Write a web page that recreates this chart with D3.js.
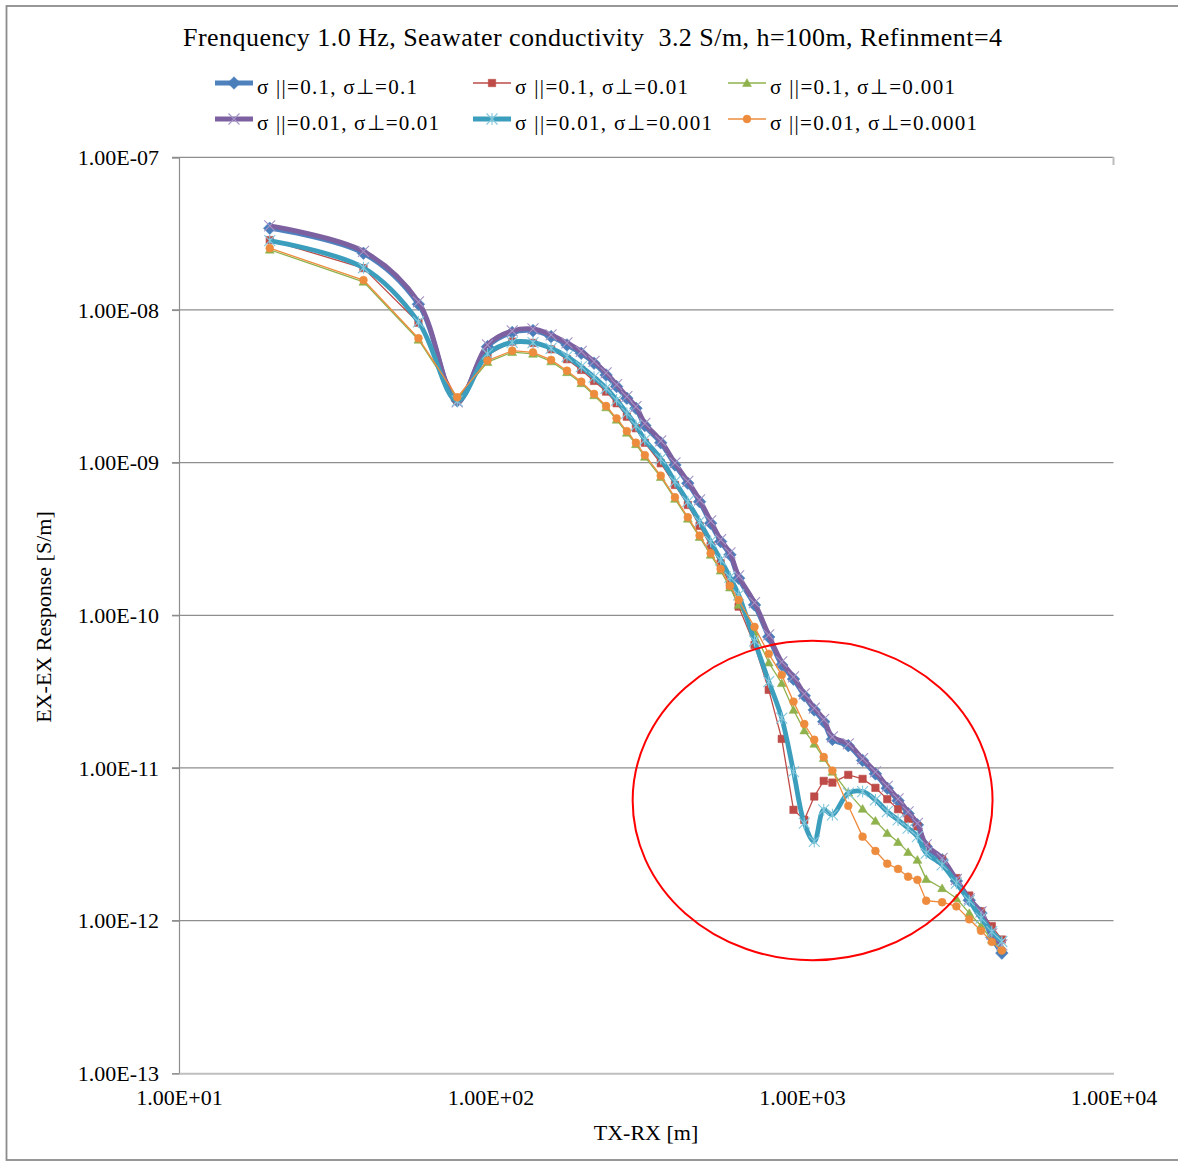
<!DOCTYPE html>
<html>
<head>
<meta charset="utf-8">
<script src="https://cdn.jsdelivr.net/npm/d3@7"></script>
<style>
  body { margin: 0; background: #fff; }
  text { font-family: "Liberation Serif", "Times New Roman", serif; fill: #000; }
</style>
</head>
<body>
<svg id="chart" width="1178" height="1163"></svg>
<script>
// TX-RX offsets [m]
const distance = [19.56, 39.1, 58.7, 78.2, 97.8, 117.4, 136.9, 156.5, 176, 195.6,
  215, 235, 254, 274, 293, 313, 352, 391, 430, 469, 509, 548, 587, 626,
  704, 782, 861, 939, 1017, 1095, 1174, 1252, 1408, 1565, 1721, 1878, 2034,
  2191, 2347, 2504, 2817, 3130, 3443, 3756, 4068, 4381];

// EX-EX response [S/m]
const s01_01 = [3.43e-8, 2.35e-8, 1.09e-8, 2.54e-9, 5.75e-9, 7.12e-9, 7.32e-9, 6.69e-9, 5.90e-9, 5.20e-9,
  4.48e-9, 3.75e-9, 3.15e-9, 2.64e-9, 2.27e-9, 1.75e-9, 1.35e-9, 9.66e-10, 7.33e-10, 5.55e-10,
  4.01e-10, 3.04e-10, 2.49e-10, 1.75e-10, 1.17e-10, 7.22e-11, 4.73e-11, 3.82e-11, 2.97e-11, 2.40e-11,
  2.01e-11, 1.54e-11, 1.40e-11, 1.12e-11, 9.15e-12, 7.37e-12, 6.11e-12, 5.03e-12, 4.24e-12, 3.06e-12,
  2.50e-12, 1.82e-12, 1.36e-12, 1.12e-12, 7.77e-13, 6.13e-13];
const s01_001 = [2.87e-8, 1.88e-8, 8.25e-9, 2.57e-9, 5.07e-9, 6.20e-9, 6.08e-9, 5.53e-9, 4.76e-9, 4.05e-9,
  3.43e-9, 2.92e-9, 2.45e-9, 2.00e-9, 1.68e-9, 1.35e-9, 9.91e-10, 7.14e-10, 5.28e-10, 3.85e-10,
  2.85e-10, 2.19e-10, 1.58e-10, 1.14e-10, 6.40e-11, 3.25e-11, 1.55e-11, 5.32e-12, 4.57e-12, 6.50e-12,
  8.23e-12, 8.02e-12, 9.01e-12, 8.48e-12, 7.41e-12, 6.25e-12, 5.37e-12, 4.64e-12, 4.15e-12, 3.06e-12,
  2.53e-12, 1.90e-12, 1.46e-12, 1.15e-12, 9.20e-13, 7.52e-13];
const s01_0001 = [2.48e-8, 1.53e-8, 6.38e-9, 2.62e-9, 4.55e-9, 5.29e-9, 5.16e-9, 4.60e-9, 3.91e-9, 3.31e-9,
  2.76e-9, 2.30e-9, 1.91e-9, 1.57e-9, 1.32e-9, 1.09e-9, 8.03e-10, 5.79e-10, 4.29e-10, 3.25e-10,
  2.49e-10, 1.96e-10, 1.52e-10, 1.17e-10, 7.79e-11, 4.90e-11, 3.59e-11, 2.40e-11, 1.76e-11, 1.44e-11,
  1.16e-11, 9.43e-12, 6.90e-12, 5.40e-12, 4.50e-12, 3.74e-12, 3.27e-12, 2.81e-12, 2.50e-12, 1.87e-12,
  1.63e-12, 1.40e-12, 1.12e-12, 9.25e-13, 7.49e-13, 6.64e-13];
const s001_001 = [3.55e-8, 2.42e-8, 1.13e-8, 2.50e-9, 5.90e-9, 7.29e-9, 7.51e-9, 6.86e-9, 6.08e-9, 5.35e-9,
  4.60e-9, 3.87e-9, 3.24e-9, 2.71e-9, 2.33e-9, 1.81e-9, 1.39e-9, 9.95e-10, 7.53e-10, 5.70e-10,
  4.15e-10, 3.13e-10, 2.56e-10, 1.81e-10, 1.21e-10, 7.44e-11, 4.95e-11, 3.95e-11, 3.06e-11, 2.47e-11,
  2.08e-11, 1.60e-11, 1.44e-11, 1.15e-11, 9.43e-12, 7.58e-12, 6.28e-12, 5.16e-12, 4.34e-12, 3.14e-12,
  2.56e-12, 1.86e-12, 1.39e-12, 1.14e-12, 8.20e-13, 6.94e-13];
const s001_0001 = [2.85e-8, 1.89e-8, 8.35e-9, 2.54e-9, 5.15e-9, 6.14e-9, 6.11e-9, 5.61e-9, 4.95e-9, 4.25e-9,
  3.63e-9, 3.07e-9, 2.57e-9, 2.11e-9, 1.75e-9, 1.41e-9, 1.06e-9, 7.51e-10, 5.55e-10, 4.11e-10,
  3.04e-10, 2.31e-10, 1.78e-10, 1.36e-10, 6.80e-11, 3.68e-11, 2.12e-11, 9.47e-12, 4.35e-12, 3.30e-12,
  5.32e-12, 4.93e-12, 6.84e-12, 7.01e-12, 6.18e-12, 5.18e-12, 4.57e-12, 4.04e-12, 3.55e-12, 2.77e-12,
  2.32e-12, 1.76e-12, 1.35e-12, 1.04e-12, 8.48e-13, 7.30e-13];
const s001_00001 = [2.54e-8, 1.57e-8, 6.53e-9, 2.68e-9, 4.66e-9, 5.41e-9, 5.28e-9, 4.71e-9, 4.00e-9, 3.39e-9,
  2.82e-9, 2.35e-9, 1.95e-9, 1.61e-9, 1.35e-9, 1.12e-9, 8.22e-10, 5.93e-10, 4.39e-10, 3.33e-10,
  2.55e-10, 2.01e-10, 1.56e-10, 1.26e-10, 8.40e-11, 5.59e-11, 4.07e-11, 2.72e-11, 1.94e-11, 1.53e-11,
  1.18e-11, 9.62e-12, 5.65e-12, 3.55e-12, 2.86e-12, 2.36e-12, 2.18e-12, 1.94e-12, 1.85e-12, 1.35e-12,
  1.32e-12, 1.24e-12, 1.02e-12, 8.58e-13, 7.26e-13, 6.37e-13];

const seriesNames = ["σ ||=0.1, σ⊥=0.1", "σ ||=0.1, σ⊥=0.01", "σ ||=0.1, σ⊥=0.001",
  "σ ||=0.01, σ⊥=0.01", "σ ||=0.01, σ⊥=0.001", "σ ||=0.01, σ⊥=0.0001"];
const xTicks = [1e1, 1e2, 1e3, 1e4];
const yTicks = [1e-13, 1e-12, 1e-11, 1e-10, 1e-9, 1e-8, 1e-7];
// circled region (annotation), in data units
const ringX = [286, 4090];
const ringY = [5.5e-13, 6.8e-11];

const titleText = "Frenquency 1.0 Hz, Seawater conductivity  3.2 S/m, h=100m, Refinment=4";

// series styling, in Excel's drawing order (legend text widths as printed)
const series = [
  { values: s01_01,     color: "#4F81BD", mark: "#4A7EBB", shape: "diamond",  thick: true,  w: 160 },
  { values: s01_001,    color: "#C0504D", mark: "#BE4B48", shape: "square",   thick: false, w: 173 },
  { values: s01_0001,   color: "#9BBB59", mark: "#8FB24C", shape: "triangle", thick: false, w: 185 },
  { values: s001_001,   color: "#7D60A0", mark: "#A493C6", shape: "cross",    thick: true,  w: 182 },
  { values: s001_0001,  color: "#3C9EBD", mark: "#84C7DC", shape: "star",     thick: true,  w: 197 },
  { values: s001_00001, color: "#F0A060", mark: "#EE8C3E", shape: "circle",   thick: false, w: 207 }
];

const svg = d3.select("#chart");

const x = d3.scaleLog().domain([10, 10000]).range([179, 1113.5]);
const y = d3.scaleLog().domain([1e-13, 1e-7]).range([1073.3, 157.3]);

// 1.00E-07 style
const sci = v => {
  const e = Math.round(Math.log10(v));
  const sign = e < 0 ? "-" : "+";
  return "1.00E" + sign + String(Math.abs(e)).padStart(2, "0");
};

// outer chart border
svg.append("rect")
  .attr("x", 6.5).attr("y", 6).attr("width", 1190).attr("height", 1154)
  .attr("fill", "none").attr("stroke", "#8C8C8C").attr("stroke-width", 1.8);

// title
svg.append("text")
  .attr("x", 183).attr("y", 45.5)
  .attr("textLength", 819).attr("lengthAdjust", "spacing")
  .style("font-size", "26px")
  .style("white-space", "pre")
  .text(titleText);

// gridlines
svg.append("g").selectAll("line").data(yTicks.slice(1)).enter().append("line")
  .attr("x1", 172).attr("x2", 1113.5)
  .attr("y1", d => y(d)).attr("y2", d => y(d))
  .attr("stroke", "#8E8E8E").attr("stroke-width", 1.2);
svg.append("line")
  .attr("x1", 1113.5).attr("x2", 1113.5).attr("y1", 157).attr("y2", 165)
  .attr("stroke", "#BDBDBD").attr("stroke-width", 2);

// y axis
const yAxis = d3.axisLeft(y).tickValues(yTicks).tickFormat(sci).tickSize(7).tickPadding(13);
const gy = svg.append("g").attr("transform", "translate(179,0)").call(yAxis);
gy.select(".domain").attr("stroke", "#8E8E8E").attr("stroke-width", 1.2);
gy.selectAll(".tick line").attr("stroke", "#8E8E8E").attr("stroke-width", 1.2);
gy.selectAll(".tick text").style("font-size", "22px").style("font-family", null);

// x axis
const xAxis = d3.axisBottom(x).tickValues(xTicks).tickFormat(sci).tickSize(0).tickPadding(16);
const gx = svg.append("g").attr("transform", "translate(0,1073.3)").call(xAxis);
gx.select(".domain").attr("stroke", "#BFBFBF").attr("stroke-width", 2);
gx.selectAll(".tick text").style("font-size", "22px").style("font-family", null);
svg.selectAll(".tick text").attr("fill", "#000");

// axis titles
svg.append("text")
  .attr("transform", "translate(51,617) rotate(-90)")
  .attr("text-anchor", "middle")
  .style("font-size", "22px")
  .text("EX-EX Response [S/m]");
svg.append("text")
  .attr("x", 646).attr("y", 1140)
  .attr("text-anchor", "middle")
  .style("font-size", "22px")
  .text("TX-RX [m]");

// marker shapes
const markerPath = shape => {
  switch (shape) {
    case "diamond":  return "M0,-6.3L6.3,0L0,6.3L-6.3,0Z";
    case "square":   return "M-3.7,-3.7H3.7V3.7H-3.7Z";
    case "triangle": return "M0,-4.3L4.4,3.4H-4.4Z";
    case "cross":    return "M-5.5,-5.5L5.5,5.5M-5.5,5.5L5.5,-5.5";
    case "star":     return "M-5.5,-5.5L5.5,5.5M-5.5,5.5L5.5,-5.5M0,-6V6";
    default:         return d3.symbol(d3.symbolCircle, 48)();
  }
};
const openShape = s => s === "cross" || s === "star";

const drawMarker = (sel, s) => {
  sel.attr("d", markerPath(s.shape))
    .attr("fill", openShape(s.shape) ? "none" : s.mark)
    .attr("stroke", s.mark)
    .attr("stroke-width", openShape(s.shape) ? 1.1 : 0.6);
};

// series
const plot = svg.append("g");
series.forEach(s => {
  const pts = distance.map((d, i) => [x(d), y(s.values[i])]);
  const line = d3.line()
    .curve(s.thick ? d3.curveCatmullRom.alpha(0.5) : d3.curveLinear);
  plot.append("path")
    .attr("d", line(pts))
    .attr("fill", "none")
    .attr("stroke", s.thick ? s.color : s.mark)
    .attr("stroke-width", s.thick ? 4.8 : 1.3)
    .attr("stroke-linejoin", "round");
  plot.append("g").selectAll("path").data(pts).enter().append("path")
    .attr("transform", p => `translate(${p[0]},${p[1]})`)
    .call(drawMarker, s);
});

// red ring annotation
const rx0 = x(ringX[0]), rx1 = x(ringX[1]);
const ry0 = y(ringY[1]), ry1 = y(ringY[0]);
svg.append("ellipse")
  .attr("cx", (rx0 + rx1) / 2).attr("cy", (ry0 + ry1) / 2)
  .attr("rx", (rx1 - rx0) / 2).attr("ry", (ry1 - ry0) / 2)
  .attr("fill", "none").attr("stroke", "#FF0000").attr("stroke-width", 2);

// legend: three columns, two rows
const legendCols = [215, 473, 728];
const legendRows = [83, 119];
const legend = svg.append("g");
series.forEach((s, i) => {
  const lx = legendCols[i % 3];
  const ly = legendRows[Math.floor(i / 3)];
  const g = legend.append("g").attr("transform", `translate(${lx},${ly})`);
  g.append("line")
    .attr("x1", 0).attr("x2", 38).attr("y1", 0).attr("y2", 0)
    .attr("stroke", s.thick ? s.color : s.mark)
    .attr("stroke-width", s.thick ? 4.8 : 1.3);
  g.append("path").attr("transform", "translate(19,0)").call(drawMarker, s);
  g.append("text")
    .attr("x", 42).attr("y", 11)
    .attr("textLength", s.w).attr("lengthAdjust", "spacing")
    .style("font-size", "21px")
    .text(seriesNames[i]);
});
</script>
</body>
</html>
